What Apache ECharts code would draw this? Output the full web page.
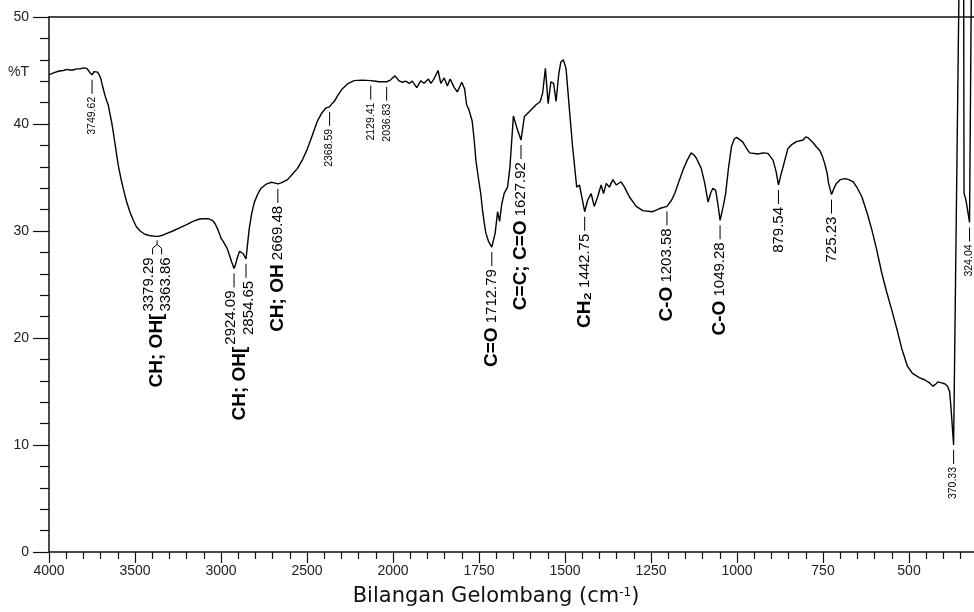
<!DOCTYPE html>
<html><head><meta charset="utf-8">
<script src="https://cdn.jsdelivr.net/npm/echarts@6/dist/echarts.min.js"></script>
<style>html,body{margin:0;padding:0;background:#fff}#c{width:974px;height:612px}</style>
</head><body><div id="c"></div>
<script>
// ---- spectrum (wavenumber cm-1, %T) ----
const spectrumWn = [4000,3970,3940,3917,3895,3880,3859,3840,3820,3800,3791,3780,3772,3762,3749.62,3738,3728,3718,3708,3698,3688,3675,3665,3656,3645,3636,3627,3612,3598,3583,3569,3550,3530,3510,3492,3470,3443,3410,3379.29,3363.86,3340,3318,3280,3241,3200,3163,3130,3106,3075,3050,3035,3020,3008,2999,2990,2980,2965,2951,2938,2924.09,2915,2905,2892,2882,2872,2862,2854.65,2846,2836,2822,2806,2785,2767,2740,2709,2690,2669.48,2650,2613,2585,2555,2525,2497,2470,2439,2415,2390,2368.59,2355,2342,2320,2294,2260,2226,2180,2129.41,2100,2081,2050,2036.83,2015,2003,1994,1983,1973,1963,1953,1944,1931,1919,1910,1897,1890,1881,1869,1861,1851,1842,1834,1822,1813,1800,1792,1786,1780,1775,1770,1764,1759,1752,1745,1740,1735,1730,1722,1712.79,1703,1696,1690,1684,1677,1667,1660,1650,1641,1627.92,1618,1604,1584,1572,1565,1557,1549,1541,1533,1526,1518,1512,1505,1497,1487,1478,1466,1458,1450,1442.75,1434,1424,1415,1405,1395,1388,1380,1371,1361,1351,1337,1327,1313,1293,1274,1245,1225,1203.58,1190,1181,1167,1157,1145,1133,1125,1118,1104,1094,1084,1076,1070,1062,1055,1049.28,1040,1033,1025,1016,1008,1001,984,970,963,939,925,910,895,886,879.54,872,866,852,840,827,808,800,793,780,770,759,752,745,738,734,725.23,718,711,700,686,675,662,650,637,620,608,595,579,565,550,535,521,505,490,470,455,440,430,422,416,405,395,388,382,378,370.33,355,341,340,336,333,324.04,319];
const spectrumT = [44.6,44.8,44.95,45.0,45.1,45.05,45.05,45.15,45.15,45.25,45.3,45.2,45.05,44.8,44.6,44.9,45.0,44.85,44.6,44.2,43.5,42.7,42.2,41.8,40.9,40.2,39.3,37.7,36.2,35.0,34.0,32.8,31.8,31.0,30.4,30.0,29.7,29.55,29.5,29.5,29.6,29.75,30.0,30.3,30.6,30.9,31.1,31.15,31.15,31.0,30.7,30.2,29.7,29.3,29.1,29.0,28.4,27.75,27.1,26.5,26.9,27.5,28.1,28.2,27.9,27.6,27.4,28.7,30.2,31.6,32.7,33.5,34.0,34.35,34.55,34.5,34.4,34.5,34.8,35.3,35.85,36.7,37.7,38.9,40.3,41.0,41.5,41.6,41.9,42.1,42.7,43.3,43.8,44.05,44.1,44.05,44.0,43.95,43.95,43.95,44.1,44.3,44.5,44.05,43.9,44.0,43.8,44.0,43.4,44.05,43.8,44.2,43.8,44.2,45.0,43.8,44.3,43.55,44.2,43.4,43.0,43.9,43.3,41.8,41.4,41.5,40.3,38.5,36.6,35.0,33.5,32.0,30.8,29.8,29.0,28.5,29.8,31.8,30.9,32.5,33.5,34.1,36.0,40.75,39.75,38.5,40.7,41.15,41.8,42.1,42.9,45.2,41.9,43.95,43.8,42.1,44.7,45.8,46.0,45.2,41.3,37.9,34.1,34.3,33.0,31.8,32.9,33.5,32.3,33.2,34.3,33.5,34.45,34.1,34.8,34.3,34.6,34.1,33.2,32.3,31.9,31.8,32.1,32.3,32.9,33.5,34.8,35.7,36.6,37.3,37.1,36.8,35.85,34.5,32.7,33.6,34.0,33.8,32.4,31.0,32.3,33.5,35.8,37.9,38.6,38.75,38.35,37.6,37.3,37.2,37.3,37.25,36.6,35.5,34.3,35.3,36.0,37.7,38.1,38.35,38.5,38.8,38.7,38.3,37.9,37.5,37.0,36.3,35.4,34.5,33.4,34.0,34.45,34.8,34.9,34.8,34.6,34.0,33.2,31.5,30.1,28.4,26.05,24.3,22.6,20.8,19.0,17.4,16.7,16.3,16.1,15.8,15.5,15.7,15.9,15.8,15.7,15.5,15.0,13.5,10.0,51.8,51.8,33.5,33.1,32.6,30.8,51.8];

// ---- axis ticks ----
const xTickWn = [4000,3500,3000,2500,2000,1750,1500,1250,1000,750,500];
const yTicks = [0,10,20,30,40,50];

// ---- peak labels ----
const peakWn = [3749.62,3379.29,3363.86,2924.09,2854.65,2669.48,2368.59,2129.41,2036.83,1712.79,1627.92,1442.75,1203.58,1049.28,879.54,725.23,370.33,324.04];
const peakT  = [44.6,29.5,29.5,26.5,27.4,34.4,41.6,44.05,43.95,28.5,38.5,31.8,32.3,31.0,34.3,33.4,10.0,30.8];
const peakAssignment = ['','CH; OH','CH; OH','CH; OH','CH; OH','CH; OH','','','','C=O','C=C; C=O','CH\u2082','C-O','C-O','','','',''];
const peakGroup = [0,1,1,2,2,3,4,5,6,7,8,9,10,11,12,13,14,15];
const peakAnnotated = [0,1,1,1,1,1,0,0,0,1,1,1,1,1,1,1,0,0];

// ---- helpers: split wavenumber scale (x2 expansion below 2000) ----
function toU(w){ return w >= 2000 ? (4000 - w) / 2 : 1000 + (2000 - w); }
function fromU(u){ return u <= 1000 ? 4000 - 2 * u : 3000 - u; }

const FAM = '"Liberation Sans", Arial, sans-serif';
const mctx = document.createElement('canvas').getContext('2d');
function textW(str, font){ mctx.font = font; return mctx.measureText(str).width; }
const NUM_FONT = '15px ' + FAM;
const PRE_FONT = 'bold 19px ' + FAM;
const SMALL_FONT = '10.5px ' + FAM;
const GAP = 5, LEAD = 14, TGAP = 3, COL = 8.7;

const groups = [];
peakGroup.forEach((g, j) => { (groups[g] = groups[g] || []).push(j); });

function seg(x1, y1, x2, y2){
  return {type:'line', shape:{x1, y1, x2, y2}, style:{stroke:'#000', lineWidth:1}};
}
function vText(x, y, text, font){
  return {type:'text', x, y, rotation: Math.PI/2,
    style:{text, font, fill:'#000', align:'right', verticalAlign:'middle'}};
}

function renderGroup(params, api){
  const idx = groups[params.dataIndex];
  const pts = idx.map(j => api.coord([toU(peakWn[j]), peakT[j]]));
  const kids = [];
  const big = peakAnnotated[idx[0]];
  const numFont = big ? NUM_FONT : SMALL_FONT;
  const pre = peakAssignment[idx[0]];
  if (idx.length === 1){
    const x = pts[0][0], y = pts[0][1];
    const txt = peakWn[idx[0]].toFixed(2);
    kids.push(seg(x, y + GAP, x, y + GAP + LEAD));
    const ay = y + GAP + LEAD + TGAP;
    if (pre){
      kids.push({type:'text', x, y: ay, rotation: Math.PI/2,
        style:{text: '{p|' + pre + '} {n|' + txt + '}', font: NUM_FONT, fill:'#000',
          align:'right', verticalAlign:'middle',
          rich:{p:{fontFamily: FAM, fontSize: 19, fontWeight:'bold', fill:'#000', verticalAlign:'middle'},
                n:{fontFamily: FAM, fontSize: 15, fill:'#000', verticalAlign:'middle'}}}});
    } else {
      kids.push(vText(x, ay, txt, numFont));
    }
  } else {
    const mx = (pts[0][0] + pts[1][0]) / 2;
    const cols = [mx - COL, mx + COL];
    const anchors = [];
    if (Math.abs(pts[1][0] - pts[0][0]) < 8){
      const y = Math.max(pts[0][1], pts[1][1]);
      kids.push({type:'polyline', shape:{points:[[mx, y + 4],[mx, y + 8],[mx - 4.5, y + 12],[mx - 4.5, y + 18]]}, style:{stroke:'#000', lineWidth:1, fill:null}});
      kids.push({type:'polyline', shape:{points:[[mx, y + 8],[mx + 4.5, y + 12],[mx + 4.5, y + 18]]}, style:{stroke:'#000', lineWidth:1, fill:null}});
      anchors.push(y + 21, y + 21);
    } else {
      pts.forEach(p => {
        kids.push(seg(p[0], p[1] + GAP, p[0], p[1] + GAP + LEAD));
        anchors.push(p[1] + GAP + LEAD + TGAP);
      });
    }
    let bottom = 0;
    idx.forEach((j, k) => {
      const txt = peakWn[j].toFixed(2);
      kids.push(vText(cols[k], anchors[k], txt, numFont));
      bottom = Math.max(bottom, anchors[k] + textW(txt, numFont));
    });
    if (pre) kids.push(vText(mx, bottom + 2, pre + '[', PRE_FONT));
  }
  return {type:'group', children: kids};
}

const chart = echarts.init(document.getElementById('c'), null, {renderer:'canvas'});
const axisCol = '#111';
chart.setOption({
  animation: false,
  backgroundColor: '#fff',
  grid: {left: 49, top: 17, width: 946, height: 535, containLabel: false, outerBoundsMode: 'none'},
  xAxis: [{
    type: 'value', min: 0, max: toU(250), interval: 250,
    axisLine: {show: true, onZero: false, lineStyle: {color: axisCol, width: 1.5}},
    axisTick: {show: true, length: 11, lineStyle: {color: axisCol, width: 1.2}},
    minorTick: {show: true, splitNumber: 5, length: 7, lineStyle: {color: axisCol, width: 1.2}},
    splitLine: {show: false}, minorSplitLine: {show: false},
    axisLabel: {margin: 12, fontSize: 14, fontFamily: FAM, color: '#222',
      showMaxLabel: false,
      formatter: v => { const w = Math.round(fromU(v)); return xTickWn.includes(w) ? String(w) : ''; }}
  }, {
    type: 'value', min: 0, max: toU(250), position: 'top',
    axisLine: {show: true, onZero: false, lineStyle: {color: axisCol, width: 1.5}},
    axisTick: {show: false}, axisLabel: {show: false}, splitLine: {show: false}
  }],
  yAxis: {
    type: 'value', min: yTicks[0], max: yTicks[yTicks.length - 1], interval: 10,
    axisLine: {show: true, onZero: false, lineStyle: {color: axisCol, width: 1.5}},
    axisTick: {show: true, length: 16, lineStyle: {color: axisCol, width: 1.2}},
    minorTick: {show: true, splitNumber: 5, length: 9, lineStyle: {color: axisCol, width: 1.2}},
    splitLine: {show: false},
    axisLabel: {margin: 20, fontSize: 14, fontFamily: FAM, color: '#222'}
  },
  series: [{
    type: 'line', xAxisIndex: 0, symbol: 'none', clip: false, silent: true,
    lineStyle: {color: '#000', width: 1.4},
    data: spectrumWn.map((w, i) => [toU(w), spectrumT[i]])
  }, {
    type: 'custom', xAxisIndex: 0, clip: false, silent: true,
    renderItem: renderGroup,
    data: groups.map((g, k) => [toU(peakWn[g[0]]), peakT[g[0]], k])
  }],
  graphic: [
    {type: 'text', x: 8, y: 72, style: {text: '%T', font: '14px ' + FAM, fill: '#222', verticalAlign: 'middle'}},
    {type: 'text', x: 496, y: 597, style: {text: 'Bilangan Gelombang (cm{s|-1})', font: '21px "DejaVu Sans", Verdana, sans-serif', fill: '#111', align: 'center', verticalAlign: 'middle',
      rich: {s: {fontFamily: '"DejaVu Sans", Verdana, sans-serif', fontSize: 12, fill: '#111', verticalAlign: 'top'}}}}
  ]
});
</script></body></html>
